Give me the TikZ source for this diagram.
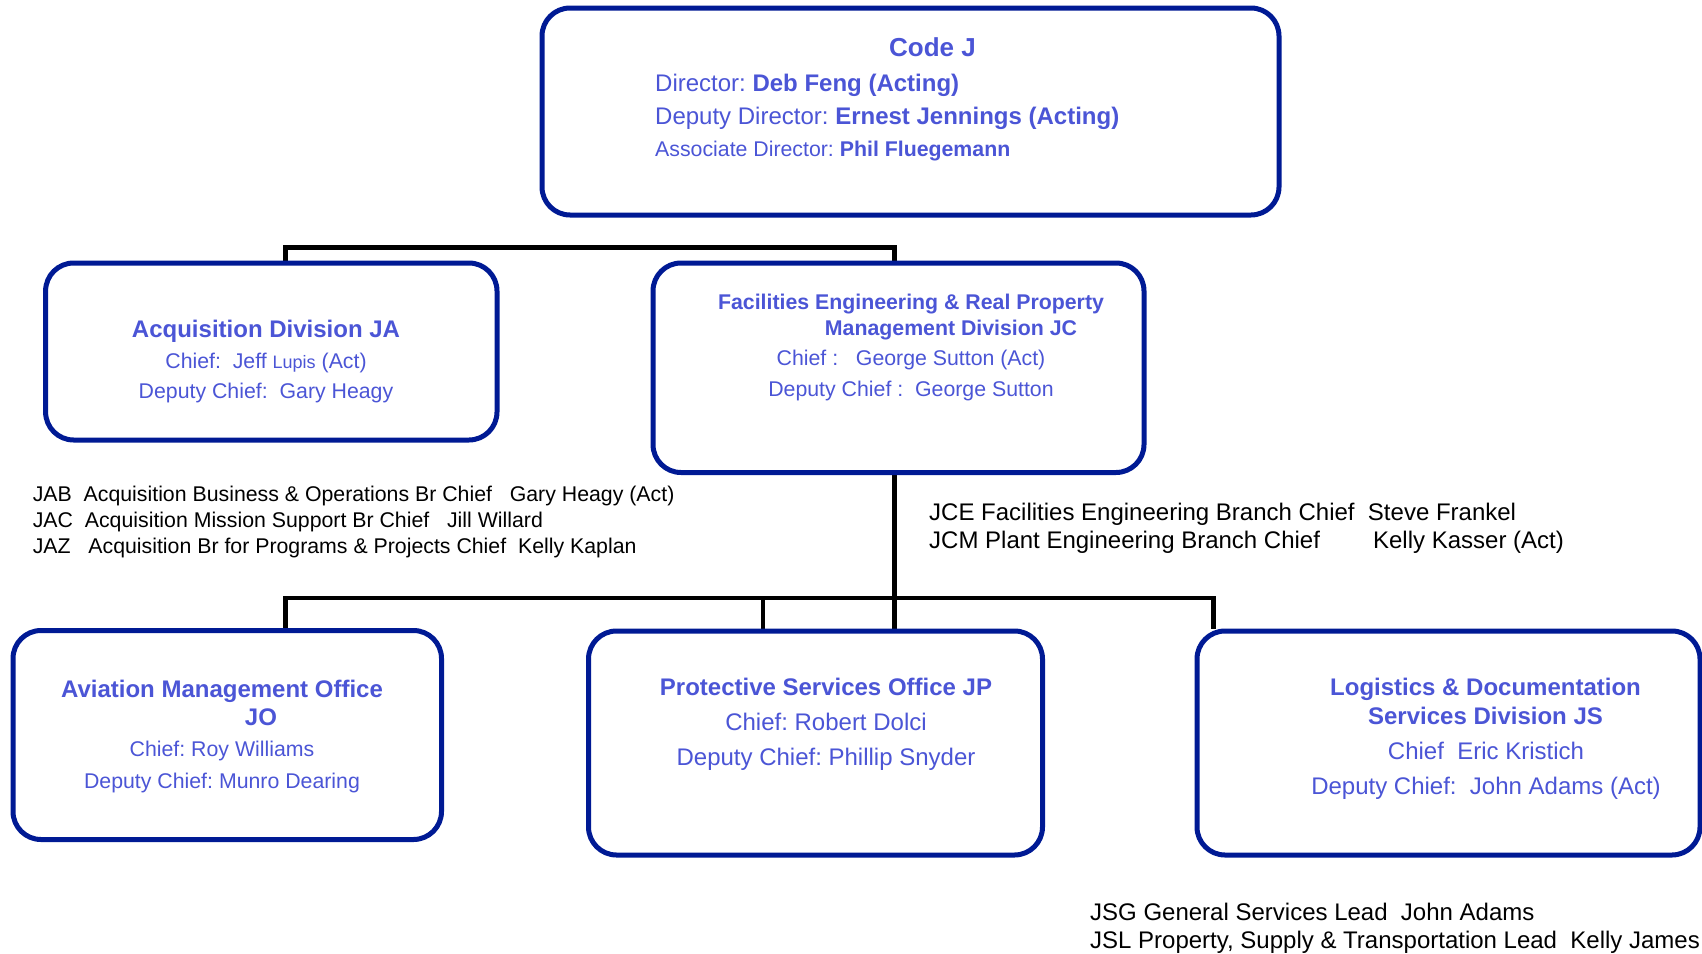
\documentclass[tikz,border=0pt]{standalone}
\usepackage{fontspec}
\setmainfont{Liberation Sans}
\usetikzlibrary{backgrounds}
\frenchspacing
\definecolor{boxline}{HTML}{001A94}
\definecolor{boxtext}{HTML}{4B55D6}
\tikzset{
  unitbox/.style={draw=boxline, line width=5pt, rounded corners=28pt, fill=white, inner sep=0pt},
  btext/.style={text=boxtext, inner sep=0pt, anchor=base},
  bleft/.style={text=boxtext, inner sep=0pt, anchor=base west},
  ktext/.style={text=black, inner sep=0pt, anchor=base west},
  conn/.style={draw=black, line width=4.5pt},
  fbig/.style={font=\fontsize{24}{28}\selectfont},
  fbigb/.style={font=\fontsize{24}{28}\selectfont\bfseries},
  fsmall/.style={font=\fontsize{21.3}{25}\selectfont},
  fsmallb/.style={font=\fontsize{21.3}{25}\selectfont\bfseries},
  ftitle/.style={font=\fontsize{26}{30}\selectfont\bfseries},
}
\begin{document}
\begin{tikzpicture}[x=1pt,y=-1pt]
\useasboundingbox (0,0) rectangle (1702,953);

% boxes
\node[unitbox, minimum width=737pt, minimum height=207pt] (top) at (910.5,111.5) {};
\node[unitbox, minimum width=451.4pt, minimum height=177pt] (acq) at (271.3,351.5) {};
\node[unitbox, minimum width=491pt, minimum height=209.5pt] (fac) at (898.5,367.75) {};
\node[unitbox, minimum width=428.5pt, minimum height=209pt] (avi) at (227.25,735) {};
\node[unitbox, minimum width=454pt, minimum height=224pt] (pro) at (815.5,743) {};
\node[unitbox, minimum width=503pt, minimum height=224pt] (log) at (1448.5,743) {};

% connectors
\coordinate (bar1) at (590,247.5);
\coordinate (bar2) at (750,598);
\begin{scope}[on background layer]
\draw[conn] ([xshift=14.2pt]acq.north) |- (bar1) -| ([xshift=-4pt]fac.north);
\draw[conn] ([xshift=-4pt]fac.south) -- ([xshift=79pt]pro.north);
\draw[conn] ([xshift=58.25pt]avi.north) |- (bar2) -| ([xshift=-234.9pt]log.north);
\draw[conn] ([xshift=-52.5pt]pro.north) -- ([xshift=-52.5pt]pro.north |- bar2);
\end{scope}

% top box text
\node[btext, ftitle] (codej) at (932.5,56) {Code J};
\node[bleft, fbig] (dir) at (655,91) {Director: \textbf{Deb Feng (Acting)}};
\node[bleft, fbig] (ddir) at (655,124.7) {Deputy Director: \textbf{Ernest Jennings (Acting)}};
\node[bleft, fsmall] (adir) at (655,156.4) {Associate Director: \textbf{Phil Fluegemann}};

% acquisition
\node[btext, fbigb] (acqt) at (266,337) {Acquisition Division JA};
\node[btext, fsmall] (acqc) at (266,368) {Chief:\ \ Jeff {\fontsize{18}{20}\selectfont Lupis} (Act)};
\node[btext, fsmall] (acqd) at (266,398.5) {Deputy Chief:\ \ Gary Heagy};

% facilities
\node[btext, fsmallb] (fact1) at (911,309.5) {Facilities Engineering \& Real Property};
\node[btext, fsmallb] (fact2) at (951,335.5) {Management Division JC};
\node[btext, fsmall] (facc) at (911,365.5) {Chief :\ \ \ George Sutton (Act)};
\node[btext, fsmall] (facd) at (911,396) {Deputy Chief :\ \ George Sutton};

% aviation
\node[btext, fbigb] (avit1) at (222,697) {Aviation Management Office};
\node[btext, fbigb] (avit2) at (261,725.5) {JO};
\node[btext, fsmall] (avic) at (222,756.6) {Chief: Roy Williams};
\node[btext, fsmall] (avid) at (222,788) {Deputy Chief: Munro Dearing};

% protective
\node[btext, fbigb] (prot) at (826,695.5) {Protective Services Office JP};
\node[btext, fbig] (proc) at (826,730) {Chief: Robert Dolci};
\node[btext, fbig] (prod) at (826,765) {Deputy Chief: Phillip Snyder};

% logistics
\node[btext, fbigb] (logt1) at (1485.5,695.5) {Logistics \& Documentation};
\node[btext, fbigb] (logt2) at (1485.5,724.5) {Services Division JS};
\node[btext, fbig] (logc) at (1486,759) {Chief\ \ Eric Kristich};
\node[btext, fbig] (logd) at (1486,794) {Deputy Chief:\ \ John Adams (Act)};

% branch lists
\node[ktext, fsmall] (jab) at (32.6,501.5) {JAB\ \ Acquisition Business \& Operations Br Chief\ \ \ Gary Heagy (Act)};
\node[ktext, fsmall] (jac) at (32.6,527.6) {JAC\ \ Acquisition Mission Support Br Chief\ \ \ Jill Willard};
\node[ktext, fsmall] (jaz) at (32.6,553.6) {JAZ\ \ \ Acquisition Br for Programs \& Projects Chief\ \ Kelly Kaplan};
\node[ktext, fbig] (jce) at (929,520) {JCE Facilities Engineering Branch Chief\ \ Steve Frankel};
\node[ktext, fbig] (jcm) at (929,548) {\makebox[444pt][l]{JCM Plant Engineering Branch Chief}Kelly Kasser (Act)};
\node[ktext, fbig] (jsg) at (1090,920.5) {JSG General Services Lead\ \ John Adams};
\node[ktext, fbig] (jsl) at (1090,948.6) {JSL Property, Supply \& Transportation Lead\ \ Kelly James};
\end{tikzpicture}
\end{document}
